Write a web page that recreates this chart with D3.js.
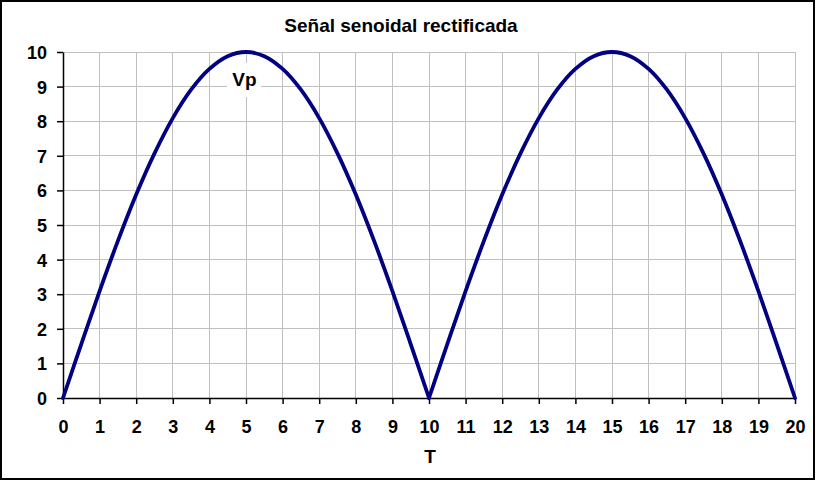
<!DOCTYPE html>
<html>
<head>
<meta charset="utf-8">
<script src="https://cdn.jsdelivr.net/npm/d3@7"></script>
<style>
  html, body { margin: 0; padding: 0; background: #fff; }
  svg text { font-family: Arial, "Liberation Sans", sans-serif; font-weight: bold; fill: #000; }
</style>
</head>
<body>
<script>
// data (points every half unit, smoothed line)
const tValues = [0, 0.5, 1, 1.5, 2, 2.5, 3, 3.5, 4, 4.5, 5, 5.5, 6, 6.5, 7, 7.5, 8, 8.5, 9, 9.5,
                 10, 10.5, 11, 11.5, 12, 12.5, 13, 13.5, 14, 14.5, 15, 15.5, 16, 16.5, 17, 17.5, 18, 18.5, 19, 19.5, 20]
const vValues = [0, 1.56, 3.09, 4.54, 5.88, 7.07, 8.09, 8.91, 9.51, 9.88, 10, 9.88, 9.51, 8.91, 8.09, 7.07, 5.88, 4.54, 3.09, 1.56,
                 0, 1.56, 3.09, 4.54, 5.88, 7.07, 8.09, 8.91, 9.51, 9.88, 10, 9.88, 9.51, 8.91, 8.09, 7.07, 5.88, 4.54, 3.09, 1.56, 0]
const xTicks = d3.range(0, 21)
const yTicks = d3.range(0, 11)
const title = "Señal senoidal rectificada"
const xTitle = "T"
const peakLabel = { t: 5, v: 10, text: "Vp" }

//------------------------------------------------------------------------------

const W = 816, H = 480
const margin = { top: 52, right: 21, bottom: 82, left: 63 }
const width = W - margin.left - margin.right
const height = H - margin.top - margin.bottom

const svg = d3.select("body")
    .append("svg")
    .attr("width", W)
    .attr("height", H)

svg.append("rect")
    .attr("x", 1).attr("y", 1)
    .attr("width", W - 3).attr("height", H - 2)
    .attr("fill", "#fff")
    .attr("stroke", "#000")
    .attr("stroke-width", 2)

const g = svg.append("g")
    .attr("transform", "translate(" + margin.left + "," + margin.top + ")")

let x = d3.scaleLinear().domain([0, 20]).range([0, width])
let y = d3.scaleLinear().domain([0, 10]).range([height, 0])

//------------------------------------------------------------------------------
// grid

g.append("g")
    .selectAll("line")
    .data(xTicks.slice(1))
    .join("line")
    .attr("x1", d => x(d)).attr("x2", d => x(d))
    .attr("y1", 0).attr("y2", height)
    .attr("stroke", "#c0c0c0")
    .attr("shape-rendering", "crispEdges")

g.append("g")
    .selectAll("line")
    .data(yTicks.slice(1))
    .join("line")
    .attr("x1", 0).attr("x2", width)
    .attr("y1", d => y(d)).attr("y2", d => y(d))
    .attr("stroke", "#c0c0c0")
    .attr("shape-rendering", "crispEdges")

// axes
const xAxis = g.append("g")
    .attr("transform", "translate(0," + height + ")")
    .call(d3.axisBottom(x).tickValues(xTicks).tickSize(6).tickPadding(16).tickSizeOuter(0))

const yAxis = g.append("g")
    .call(d3.axisLeft(y).tickValues(yTicks).tickSize(6).tickPadding(10).tickSizeOuter(0))

;[xAxis, yAxis].forEach(a => {
    a.select(".domain").attr("stroke", "#000").attr("stroke-width", 1.5)
    a.selectAll(".tick line").attr("stroke", "#000").attr("stroke-width", 1.5)
    a.selectAll("text")
        .style("font-family", "Arial, 'Liberation Sans', sans-serif")
        .style("font-weight", "bold")
        .style("font-size", "18px")
        .attr("fill", "#000")
})
yAxis.selectAll("text").attr("dy", "0.36em")

//------------------------------------------------------------------------------
// peak label with white background

const lbl = g.append("g")
    .attr("transform", "translate(" + x(peakLabel.t) + "," + y(peakLabel.v) + ")")
lbl.append("rect")
    .attr("x", -19).attr("y", 11)
    .attr("width", 34).attr("height", 34)
    .attr("fill", "#fff")
lbl.append("text")
    .attr("x", -1.5).attr("y", 34)
    .attr("text-anchor", "middle")
    .style("font-size", "19px")
    .text(peakLabel.text)

// curve: one smoothed arch per half period, so the zero at T=10 stays sharp
let points = tValues.map((t, i) => [t, vValues[i]])
let arches = [points.filter(p => p[0] <= 10), points.filter(p => p[0] >= 10)]

const line = d3.line()
    .x(d => x(d[0]))
    .y(d => y(d[1]))
    .curve(d3.curveCatmullRom.alpha(0.5))

g.append("g")
    .selectAll("path")
    .data(arches)
    .join("path")
    .attr("d", line)
    .attr("fill", "none")
    .attr("stroke", "#000080")
    .attr("stroke-width", 3.8)
    .attr("stroke-linejoin", "round")
    .attr("stroke-linecap", "round")

//------------------------------------------------------------------------------
// titles

svg.append("text")
    .attr("x", 401)
    .attr("y", 32)
    .attr("text-anchor", "middle")
    .style("font-size", "19px")
    .text(title)

svg.append("text")
    .attr("x", margin.left + x(10) + 1)
    .attr("y", 463)
    .attr("text-anchor", "middle")
    .style("font-size", "19px")
    .text(xTitle)
</script>
</body>
</html>
